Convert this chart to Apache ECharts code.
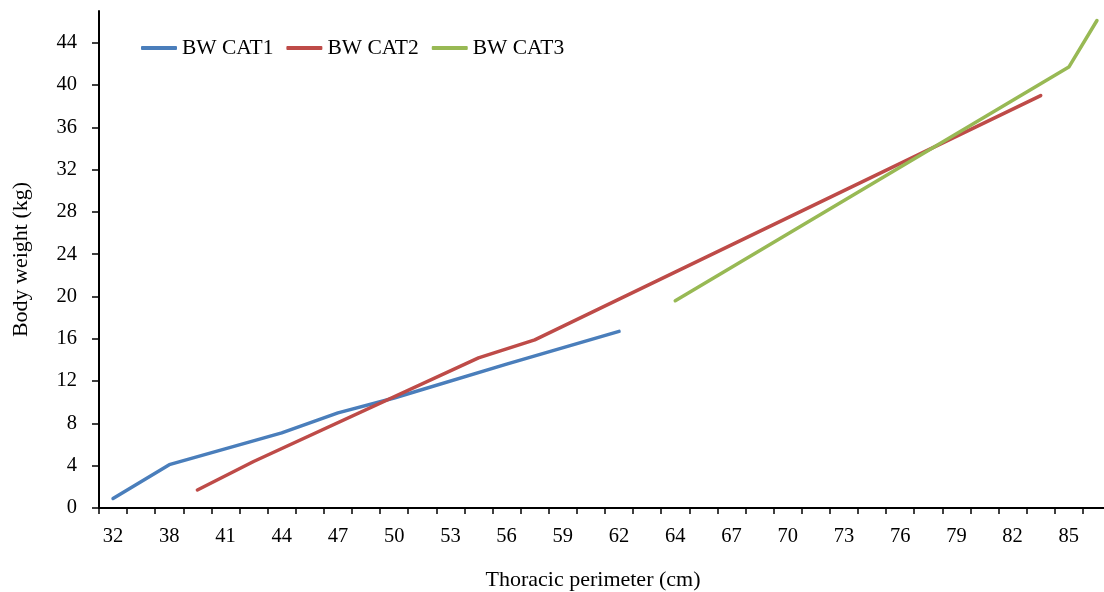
<!DOCTYPE html>
<html>
<head>
<meta charset="utf-8">
<title>Body weight by thoracic perimeter</title>
<script src="https://cdn.jsdelivr.net/npm/echarts@6/dist/echarts.min.js"></script>
<style>
  html, body { margin: 0; padding: 0; background: #ffffff; }
  #chart { width: 1104px; height: 592px; }
</style>
</head>
<body>
<div id="chart"></div>
<script>
// Thoracic perimeter classes (cm) on the horizontal axis
const perimeters = ['32','35','38','40','41','43','44','46','47','49','50','52','53','55','56','58','59','61','62','63',
                    '64','66','67','69','70','72','73','75','76','78','79','81','82','84','85','86'];

// Body weight (kg) per category: [perimeter, weight]
const bwCat1 = [['32', 0.9], ['38', 4.1], ['44', 7.1], ['47', 9.0], ['50', 10.4], ['56', 13.6], ['62', 16.7]];
const bwCat2 = [['40', 1.7], ['43', 4.4], ['55', 14.2], ['58', 15.9], ['84', 39.0]];
const bwCat3 = [['64', 19.6], ['85', 41.7], ['86', 46.1]];

const seriesNames = ['BW CAT1', 'BW CAT2', 'BW CAT3'];
const seriesColors = ['#4A7EBB', '#BE4B48', '#98B954'];
const weightTicks = [0, 4, 8, 12, 16, 20, 24, 28, 32, 36, 40, 44];

const FONT = '"Liberation Serif", "DejaVu Serif", serif';

const chart = echarts.init(document.getElementById('chart'), null, { renderer: 'canvas' });

const makeLine = (name, data, color) => ({
  name: name,
  type: 'line',
  data: data,
  symbol: 'none',
  connectNulls: true,
  lineStyle: { color: color, width: 3.5, cap: 'round', join: 'round' },
  itemStyle: { color: color },
  emphasis: { disabled: true }
});

chart.setOption({
  animation: false,
  backgroundColor: '#ffffff',
  textStyle: { fontFamily: FONT },
  grid: {
    left: 99, right: -7, top: 11, bottom: 84,
    containLabel: false,
    outerBoundsMode: 'none'
  },
  legend: {
    left: 136, top: 32,
    icon: 'roundRect',
    itemWidth: 36, itemHeight: 4,
    itemGap: 13,
    textStyle: { fontFamily: FONT, fontSize: 21.5, color: '#000000' },
    data: seriesNames
  },
  xAxis: {
    type: 'category',
    data: perimeters,
    boundaryGap: true,
    name: 'Thoracic perimeter (cm)',
    nameLocation: 'middle',
    nameGap: 61,
    nameTextStyle: { fontFamily: FONT, fontSize: 22, color: '#000000', padding: [0, 24, 0, 0] },
    axisLine: { show: true, lineStyle: { color: '#000000', width: 2 } },
    axisTick: { show: true, interval: 0, length: 6, lineStyle: { color: '#000000', width: 1.5 } },
    axisLabel: { interval: 1, margin: 18, fontFamily: FONT, fontSize: 20.5, color: '#000000' },
    splitLine: { show: false }
  },
  yAxis: {
    type: 'value',
    min: 0, max: 47, interval: 4,
    name: 'Body weight (kg)',
    nameLocation: 'middle',
    nameGap: 67,
    nameTextStyle: { fontFamily: FONT, fontSize: 22, color: '#000000' },
    axisLine: { show: true, lineStyle: { color: '#000000', width: 2 } },
    axisTick: { show: true, length: 7, customValues: weightTicks, lineStyle: { color: '#000000', width: 1.5 } },
    axisLabel: { margin: 22, customValues: weightTicks, fontFamily: FONT, fontSize: 20.5, color: '#000000' },
    splitLine: { show: false }
  },
  series: [
    makeLine(seriesNames[0], bwCat1, seriesColors[0]),
    makeLine(seriesNames[1], bwCat2, seriesColors[1]),
    makeLine(seriesNames[2], bwCat3, seriesColors[2])
  ]
});
</script>
</body>
</html>
